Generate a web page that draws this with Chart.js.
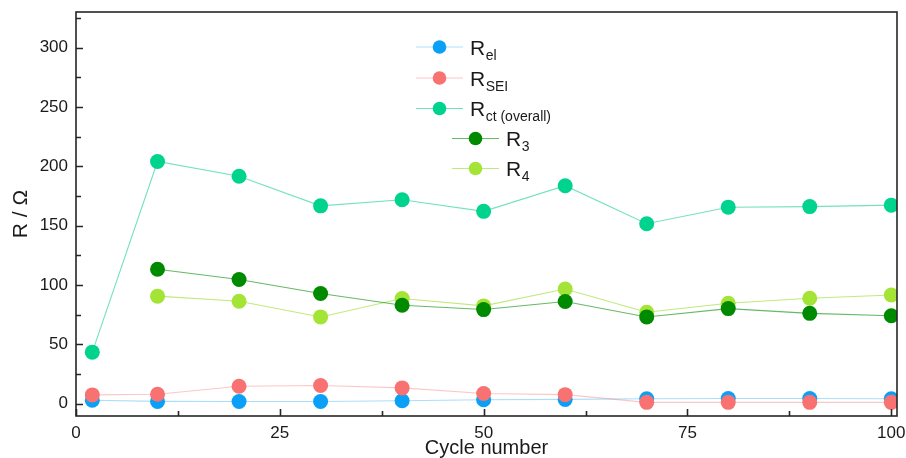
<!DOCTYPE html>
<html>
<head>
<meta charset="utf-8">
<script src="https://cdn.jsdelivr.net/npm/chart.js@4/dist/chart.umd.min.js"></script>
<style>
    html, body { margin: 0; padding: 0; background: #fff; }
    #wrap { width: 906px; height: 458px; }
</style>
</head>
<body>
<div id="wrap"><canvas id="resistanceChart"></canvas></div>
<script>
// === DATA ===
const cycles = [2, 10, 20, 30, 40, 50, 60, 70, 80, 90, 100];
const rEl  = [2.8, 1.8, 1.7, 1.7, 2.3, 3.2, 3.5, 4.0, 4.2, 4.3, 4.0];
const rSEI = [7.3, 7.8, 14.6, 15.2, 13.2, 8.5, 7.5, 1.0, 1.0, 1.0, 1.0];
const rCt  = [43.3, 204, 191.6, 166.6, 171.7, 162, 183.6, 151.5, 165.5, 166, 167.2];
const r3   = [null, 113.2, 104.5, 92.7, 82.9, 79.2, 86.0, 73.0, 80.0, 76.0, 74.0];
const r4   = [null, 90.5, 86.2, 73.0, 88.5, 82.3, 96.5, 77.0, 84.5, 88.8, 91.5];

const xTicks = [0, 25, 50, 75, 100];
const yTicks = [0, 50, 100, 150, 200, 250, 300];

const FONT = "'Liberation Sans', Arial, sans-serif";

function toPoints(values) {
    return cycles.map((c, i) => ({ x: c, y: values[i] }));
}

// series: subscript, marker colour, line colour, draw order
const series = [
    { sub: 'el',           data: rEl,  color: '#0aa0f7', line: 'rgba(10,160,247,0.35)',  order: 1 },
    { sub: 'SEI',          data: rSEI, color: '#f87272', line: 'rgba(248,114,114,0.4)',  order: 0 },
    { sub: 'ct (overall)', data: rCt,  color: '#00d38e', line: 'rgba(0,200,140,0.55)',   order: 4 },
    { sub: '3',            data: r3,   color: '#008a00', line: 'rgba(0,138,0,0.6)',      order: 2 },
    { sub: '4',            data: r4,   color: '#a4e436', line: 'rgba(150,220,40,0.6)',   order: 3 }
];

// legend rows sit inside the plot, last two indented
const legendRows = [
    { lineX: 416, y: 47 },
    { lineX: 416, y: 78 },
    { lineX: 416, y: 108.5 },
    { lineX: 452, y: 138.5 },
    { lineX: 452, y: 168.5 }
];

// keep the plot box fixed: no extra room for overhanging tick labels
function noPadding(s) {
    s.paddingTop = 0;
    s.paddingBottom = 0;
    s.paddingLeft = 0;
    s.paddingRight = 0;
}

// === FRAME, INWARD TICKS, LEGEND ===
const framePlugin = {
    id: 'framePlugin',
    afterDraw(chart) {
        const { ctx, chartArea: a, scales: { x, y } } = chart;
        ctx.save();
        ctx.strokeStyle = '#262626';
        ctx.lineWidth = 1.6;
        ctx.beginPath();
        for (let v = 0; v <= 100; v += 12.5) {
            const px = Math.round(x.getPixelForValue(v)) + 0.5;
            const len = v % 25 === 0 ? 7 : 5;
            ctx.moveTo(px, a.bottom);
            ctx.lineTo(px, a.bottom - len);
        }
        for (let v = 0; v <= 325; v += 25) {
            const py = Math.round(y.getPixelForValue(v)) + 0.5;
            const len = v % 50 === 0 ? 7 : 5;
            ctx.moveTo(a.left, py);
            ctx.lineTo(a.left + len, py);
        }
        ctx.stroke();
        ctx.strokeRect(a.left, a.top, a.right - a.left, a.bottom - a.top);

        // legend
        ctx.textBaseline = 'alphabetic';
        ctx.textAlign = 'left';
        legendRows.forEach((row, i) => {
            const s = series[i];
            ctx.strokeStyle = s.line;
            ctx.lineWidth = 1.2;
            ctx.beginPath();
            ctx.moveTo(row.lineX, row.y);
            ctx.lineTo(row.lineX + 47, row.y);
            ctx.stroke();
            ctx.fillStyle = s.color;
            ctx.beginPath();
            ctx.arc(row.lineX + 23.5, row.y, 6.8, 0, Math.PI * 2);
            ctx.fill();

            const tx = row.lineX + 54;
            ctx.fillStyle = '#1a1a1a';
            ctx.font = '21px ' + FONT;
            ctx.fillText('R', tx, row.y + 7.5);
            const w = ctx.measureText('R').width;
            ctx.font = '14px ' + FONT;
            ctx.fillText(s.sub, tx + w + 0.5, row.y + 12.5);
        });
        ctx.restore();
    }
};

const chart = new Chart(document.getElementById('resistanceChart'), {
    type: 'line',
    data: {
        datasets: series.map(s => ({
            label: 'R' + s.sub,
            data: toPoints(s.data),
            borderColor: s.line,
            backgroundColor: s.color,
            borderWidth: 1.1,
            pointRadius: 7.5,
            pointBorderWidth: 0,
            pointBackgroundColor: s.color,
            tension: 0,
            order: s.order
        }))
    },
    options: {
        responsive: true,
        maintainAspectRatio: false,
        animation: false,
        layout: { padding: { top: 12, right: 9, left: 0, bottom: 0 } },
        plugins: {
            legend: { display: false },
            tooltip: { enabled: false }
        },
        scales: {
            x: {
                type: 'linear',
                min: 0,
                max: 100.7,
                afterBuildTicks: s => { s.ticks = xTicks.map(v => ({ value: v })); },
                afterFit: s => { s.height = 42; noPadding(s); },
                grid: { display: false, drawTicks: false, tickLength: 0 },
                border: { display: false },
                ticks: {
                    padding: 7,
                    maxRotation: 0,
                    color: '#1a1a1a',
                    font: { family: FONT, size: 17 }
                },
                title: {
                    display: true,
                    text: 'Cycle number',
                    color: '#1a1a1a',
                    padding: { top: 0, bottom: 0 },
                    font: { family: FONT, size: 20, lineHeight: 1.0 }
                }
            },
            y: {
                min: -10.5,
                max: 330,
                afterBuildTicks: s => { s.ticks = yTicks.map(v => ({ value: v })); },
                afterFit: s => { s.width = 76; noPadding(s); },
                grid: { display: false, drawTicks: false, tickLength: 0 },
                border: { display: false },
                ticks: {
                    padding: 8,
                    color: '#1a1a1a',
                    font: { family: FONT, size: 17 }
                },
                title: {
                    display: true,
                    text: 'R / Ω',
                    color: '#1a1a1a',
                    padding: { top: 9, bottom: 0 },
                    font: { family: FONT, size: 21 }
                }
            }
        }
    },
    plugins: [framePlugin]
});
</script>
</body>
</html>
